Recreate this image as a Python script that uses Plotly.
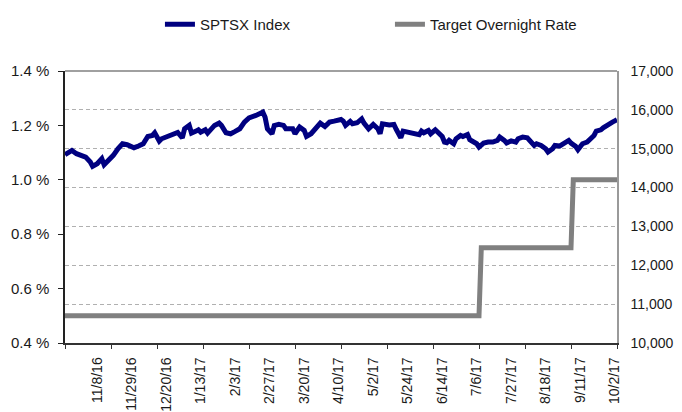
import pandas as pd
import plotly.graph_objects as go

# TSX trading calendar (category axis)
holidays = ["2016-12-26", "2016-12-27", "2017-01-02", "2017-02-20", "2017-04-14",
            "2017-05-22", "2017-07-03", "2017-08-07", "2017-09-04"]
trading_days = [d.strftime("%Y-%m-%d") for d in pd.bdate_range("2016-10-19", "2017-10-03")
                if d.strftime("%Y-%m-%d") not in holidays]
pos = {d: i for i, d in enumerate(trading_days)}

# S&P/TSX index readings (right axis)
sptsx_dates = [
    "2016-10-19", "2016-10-24", "2016-10-26", "2016-10-28", "2016-11-01", "2016-11-03", "2016-11-04",
    "2016-11-08", "2016-11-10", "2016-11-11", "2016-11-15", "2016-11-17", "2016-11-21", "2016-11-23",
    "2016-11-25", "2016-11-29", "2016-11-30", "2016-12-02", "2016-12-06", "2016-12-08", "2016-12-12",
    "2016-12-13", "2016-12-15", "2016-12-16", "2016-12-20", "2016-12-23", "2016-12-29", "2017-01-03",
    "2017-01-04", "2017-01-06", "2017-01-09", "2017-01-11", "2017-01-12", "2017-01-13", "2017-01-17",
    "2017-01-18", "2017-01-20", "2017-01-23", "2017-01-25", "2017-01-26", "2017-01-30", "2017-02-01",
    "2017-02-03", "2017-02-07", "2017-02-09", "2017-02-13", "2017-02-16", "2017-02-17", "2017-02-22",
    "2017-02-23", "2017-02-24", "2017-02-28", "2017-03-01", "2017-03-03", "2017-03-07", "2017-03-08",
    "2017-03-10", "2017-03-13", "2017-03-14", "2017-03-16", "2017-03-20", "2017-03-21", "2017-03-23",
    "2017-03-27", "2017-03-29", "2017-03-31", "2017-04-04", "2017-04-06", "2017-04-11", "2017-04-12",
    "2017-04-13", "2017-04-18", "2017-04-19", "2017-04-21", "2017-04-25", "2017-04-26", "2017-04-28",
    "2017-05-02", "2017-05-04", "2017-05-05", "2017-05-08", "2017-05-11", "2017-05-15", "2017-05-16",
    "2017-05-18", "2017-05-19", "2017-05-24", "2017-05-26", "2017-05-31", "2017-06-01", "2017-06-02",
    "2017-06-06", "2017-06-07", "2017-06-09", "2017-06-12", "2017-06-14", "2017-06-15", "2017-06-16",
    "2017-06-19", "2017-06-21", "2017-06-22", "2017-06-26", "2017-06-27", "2017-06-29", "2017-06-30",
    "2017-07-05", "2017-07-06", "2017-07-07", "2017-07-11", "2017-07-13", "2017-07-17", "2017-07-19",
    "2017-07-20", "2017-07-24", "2017-07-25", "2017-07-27", "2017-07-31", "2017-08-01", "2017-08-03",
    "2017-08-08", "2017-08-09", "2017-08-11", "2017-08-14", "2017-08-16", "2017-08-18", "2017-08-21",
    "2017-08-23", "2017-08-24", "2017-08-28", "2017-08-30", "2017-09-01", "2017-09-05", "2017-09-07",
    "2017-09-08", "2017-09-12", "2017-09-14", "2017-09-15", "2017-09-19", "2017-09-20", "2017-09-22",
    "2017-09-25", "2017-09-27", "2017-09-28", "2017-09-29", "2017-10-03",
]
sptsx_values = [
    14846, 14957, 14872, 14829, 14786, 14658, 14547,
    14615, 14744, 14590, 14701, 14829, 15000, 15128,
    15103, 15068, 15026, 15068, 15128, 15316, 15342,
    15410, 15197, 15256, 15299, 15355, 15420, 15282,
    15513, 15599, 15402, 15453, 15487, 15427, 15487,
    15402, 15556, 15599, 15658, 15599, 15410, 15385,
    15445, 15513, 15684, 15795, 15855, 15880, 15940,
    15812, 15513, 15385, 15599, 15630, 15600, 15513,
    15500, 15513, 15385, 15556, 15470, 15316, 15385,
    15513, 15658, 15573, 15684, 15709, 15752, 15709,
    15599, 15701, 15641, 15667, 15769, 15658, 15513,
    15624, 15513, 15385, 15641, 15610, 15624, 15500,
    15282, 15453, 15427, 15427, 15359, 15453, 15410,
    15470, 15385, 15487, 15427, 15316, 15171, 15154,
    15214, 15128, 15256, 15342, 15316, 15367, 15231,
    15171, 15128, 15043, 15145, 15171, 15171, 15214,
    15299, 15214, 15150, 15200, 15171, 15256, 15299,
    15282, 15214, 15085, 15128, 15085, 15000, 14915,
    15000, 15085, 15068, 15128, 15214, 15145, 15060,
    14974, 15128, 15171, 15231, 15342, 15453, 15487,
    15538, 15624, 15658, 15684, 15744,
]

# Bank of Canada target overnight rate (left axis, %)
rate_dates = ["2016-10-19", "2017-07-07", "2017-07-10", "2017-09-05", "2017-09-06", "2017-10-03"]
rate_values = [0.50, 0.50, 0.75, 0.75, 1.00, 1.00]

# Axis tick labels
label_dates = ["2016-11-08", "2016-11-29", "2016-12-20", "2017-01-13", "2017-02-03", "2017-02-27",
               "2017-03-20", "2017-04-10", "2017-05-02", "2017-05-24", "2017-06-14", "2017-07-06",
               "2017-07-27", "2017-08-18", "2017-09-11", "2017-10-02"]
label_text = ["11/8/16", "11/29/16", "12/20/16", "1/13/17", "2/3/17", "2/27/17", "3/20/17", "4/10/17",
              "5/2/17", "5/24/17", "6/14/17", "7/6/17", "7/27/17", "8/18/17", "9/11/17", "10/2/17"]
left_ticks = [0.4, 0.6, 0.8, 1.0, 1.2, 1.4]
right_ticks = [10000, 11000, 12000, 13000, 14000, 15000, 16000, 17000]

FONT = "Liberation Sans, Arial, sans-serif"
TXT = "#1a1a1a"
FS = 15

fig = go.Figure()
fig.add_trace(go.Scatter(
    x=[pos[d] for d in sptsx_dates], y=sptsx_values, name="SPTSX Index", mode="lines",
    line=dict(color="#000080", width=5), yaxis="y2"))
fig.add_trace(go.Scatter(
    x=[pos[d] for d in rate_dates], y=rate_values, name="Target Overnight Rate", mode="lines",
    line=dict(color="#808080", width=5), yaxis="y"))

n = len(trading_days)
# the page body adds an 8px offset, so the figure is 8px smaller than the window
fig.update_layout(
    width=674, height=404,
    margin=dict(l=57, r=65, t=63, b=69),
    paper_bgcolor="white", plot_bgcolor="white",
    font=dict(family=FONT, size=FS, color=TXT),
    showlegend=True,
    legend=dict(orientation="h", x=0.172, xanchor="left", yref="container", y=1.0, yanchor="top",
                font=dict(size=FS, color=TXT), entrywidth=185, bgcolor="rgba(0,0,0,0)"),
    xaxis=dict(
        range=[0, n - 1], showgrid=False, zeroline=False, automargin=False,
        showline=True, linecolor="#333333", linewidth=1.5,
        tickmode="array", tickvals=[pos[d] for d in label_dates], ticktext=label_text,
        ticks="", tickangle=-90, tickfont=dict(size=14, color=TXT), ticklabelstandoff=7,
        minor=dict(tickmode="array", tickvals=list(range(0, n, 20)), ticks="outside",
                   ticklen=4, tickcolor="#333333", tickwidth=1, showgrid=False),
    ),
    yaxis=dict(
        range=[0.4, 1.4], tickmode="array", tickvals=left_ticks,
        ticktext=[f"{v:.1f} %" for v in left_ticks], automargin=False,
        showgrid=False, zeroline=False, showline=True, linecolor="#222222", linewidth=1.5,
        ticks="outside", ticklen=5, tickcolor="#222222", tickfont=dict(size=FS, color=TXT),
        ticklabelstandoff=6,
    ),
    yaxis2=dict(
        range=[10000, 17000], overlaying="y", side="right", tickmode="array",
        tickvals=right_ticks, ticktext=[f"{v:,}" for v in right_ticks], automargin=False,
        showgrid=True, gridcolor="#b0b0b0", griddash="4px,3px", gridwidth=1,
        zeroline=False, showline=True, linecolor="#9a9a9a", linewidth=1.5,
        ticks="", tickfont=dict(size=14, color=TXT), ticklabelstandoff=9,
    ),
    shapes=[dict(type="line", xref="paper", yref="paper", x0=0, x1=1, y0=1, y1=1,
                 line=dict(color="#808080", width=1.5))],
)

fig.write_html("out.html")
